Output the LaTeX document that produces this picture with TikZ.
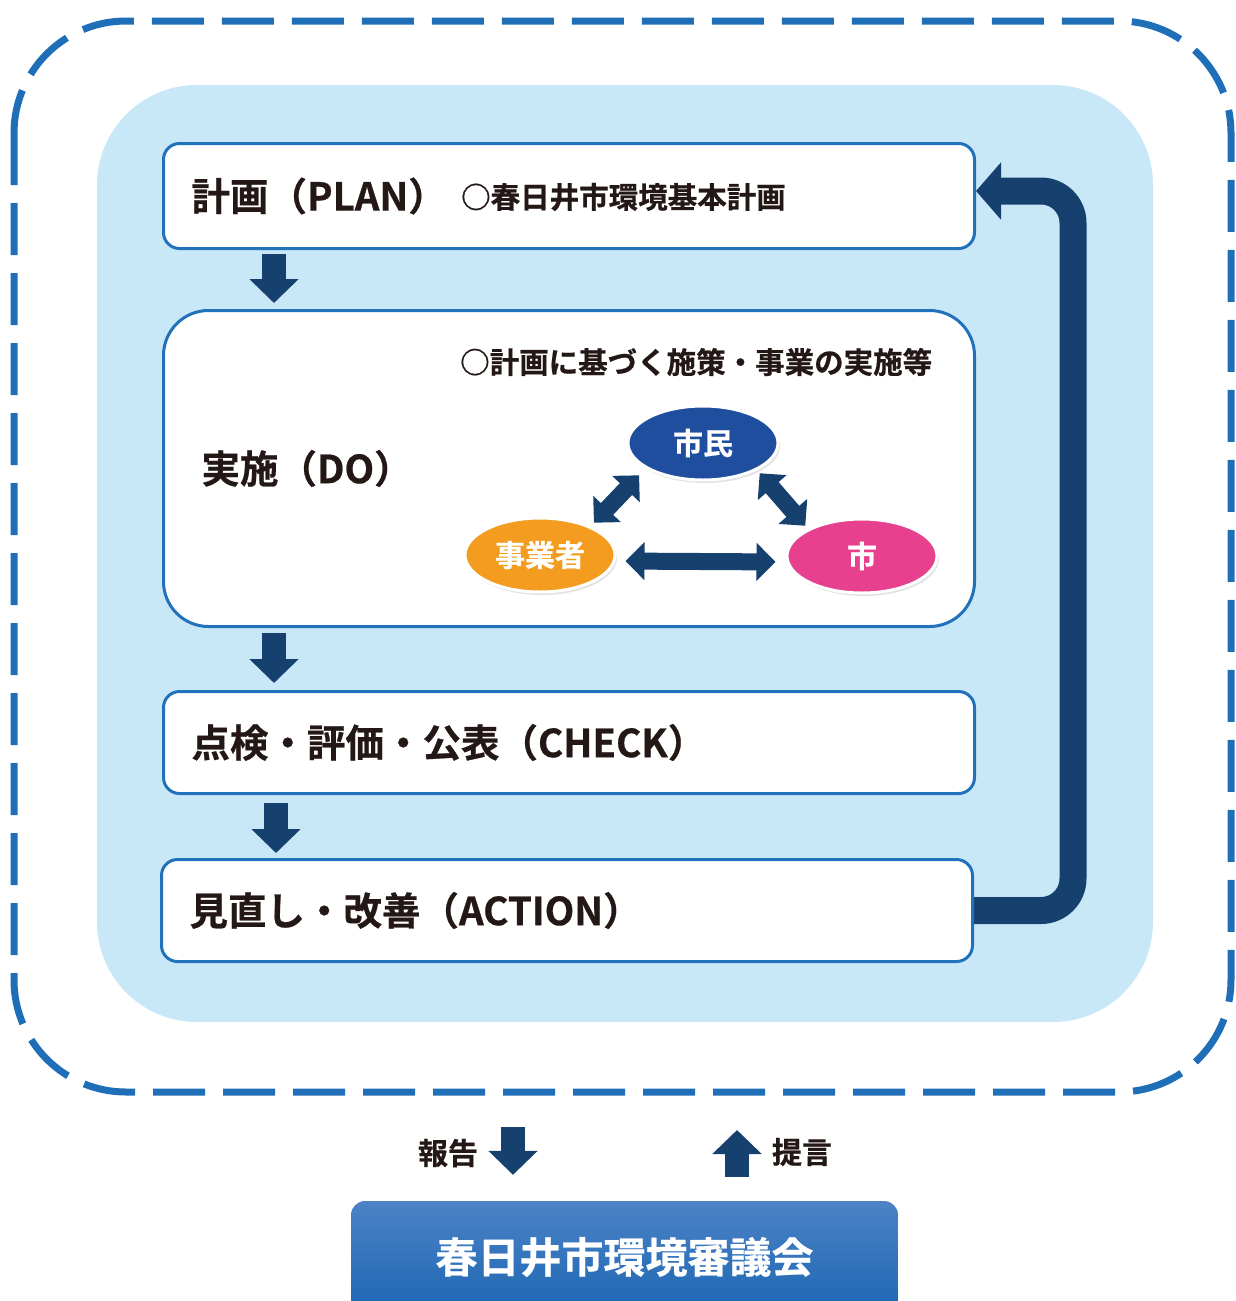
\documentclass[tikz,border=0pt]{standalone}
\usepackage{fontspec}
\setmainfont{Noto Sans CJK JP}[BoldFont=* Bold, BoldFeatures={FakeBold=0.6}]
\usetikzlibrary{arrows.meta,shapes.geometric,shadows,backgrounds,calc}
\definecolor{frameblue}{HTML}{1F6EB8}
\definecolor{boxblue}{HTML}{2271BB}
\definecolor{paleblue}{HTML}{C8E8F8}
\definecolor{arrblue}{HTML}{16416F}
\definecolor{inkblack}{HTML}{231815}
\definecolor{citizenblue}{HTML}{1F4E9F}
\definecolor{bizorange}{HTML}{F39C1F}
\definecolor{citypink}{HTML}{E6408E}
\definecolor{counciltop}{HTML}{4D82C6}
\definecolor{councilbottom}{HTML}{1B67B3}
\tikzset{
  stagebox/.style={draw=boxblue, line width=3pt, fill=white,
    rounded corners=16pt, text width=755pt, align=left, inner xsep=28pt,
    text=inkblack, font=\fontsize{38.5}{41}\selectfont\bfseries},
  notetext/.style={inner sep=0pt, text=inkblack,
    font=\fontsize{29.5}{32}\selectfont\bfseries},
  blockarr/.style={draw=arrblue, line width=24pt,
    -{Triangle[width=48pt,length=24pt]}},
  twoway/.style={draw=arrblue, line width=17pt,
    {Triangle[width=37pt,length=19pt]}-{Triangle[width=37pt,length=19pt]}},
  actor/.style={ellipse, draw=white, line width=3pt,
    minimum width=150pt, minimum height=74pt, text=white,
    font=\fontsize{30}{32}\selectfont\bfseries,
    drop shadow={opacity=0.22, shadow xshift=2pt, shadow yshift=-3pt}},
}
\begin{document}
\begin{tikzpicture}[x=1pt,y=-1pt]
\useasboundingbox (0,0) rectangle (1235,1301);
% PDCA stages
\node[stagebox, minimum height=105pt] (plan) at (569,196) {計画（PLAN）};
\node[stagebox, minimum height=316pt, rounded corners=45pt,
  inner xsep=38pt, text width=735pt] (do) at (569,468.5) {実施（DO）};
\node[stagebox, minimum height=102pt] (check) at (569,742.5)
  {点検・評価・公表（CHECK）};
\node[stagebox, minimum height=102pt] (action) at (567,910.5)
  {見直し・改善（ACTION）};
\node[notetext, anchor=west] (plannote) at (461,197)
  {○春日井市環境基本計画};
\node[notetext, anchor=west] (donote) at (460,362)
  {○計画に基づく施策・事業の実施等};
% actors
\node[actor, fill=citizenblue] (citizen) at (703,443) {市民};
\node[actor, fill=bizorange] (business) at (540,555) {事業者};
\node[actor, fill=citypink] (city) at (862,556) {市};
\draw[twoway, shorten <=7pt, shorten >=7pt]
  ([xshift=-5pt]business.north east) --
  ([xshift=-5pt]citizen.south west);
\draw[twoway, shorten <=4pt, shorten >=4pt]
  (citizen.south east) --
  (city.north west);
\draw[twoway, shorten <=9pt, shorten >=10pt]
  ([yshift=-6pt]business.east) --
  ([yshift=-6pt]city.west);
% flow between stages
\draw[blockarr, shorten <=4pt, shorten >=6pt]
  ([xshift=-295pt]plan.south) --
  ([xshift=-295pt]do.north);
\draw[blockarr, shorten <=5pt, shorten >=7pt]
  ([xshift=-295pt]do.south) --
  ([xshift=-295pt]check.north);
\draw[blockarr, shorten <=8pt, shorten >=5pt]
  ([xshift=-293pt]check.south) --
  ([xshift=-291pt]action.north);
% council
\node[rounded corners=14pt, top color=counciltop, bottom color=councilbottom,
  minimum width=547pt, minimum height=112pt, text=white,
  font=\fontsize{42}{44}\selectfont\bfseries] (council) at (624.5,1257)
  {春日井市環境審議会};
\node[notetext, font=\fontsize{30}{32}\selectfont\bfseries]
  (report) at (448,1153) {報告};
\node[notetext, font=\fontsize{30}{32}\selectfont\bfseries]
  (proposal) at (802,1152) {提言};
\coordinate (reporttop) at (513,1127);
\coordinate (proposaltop) at (737,1130);
\draw[blockarr, shorten >=26pt]
  (reporttop) --
  (reporttop |- council.north);
\draw[blockarr, shorten <=24pt]
  (council.north -| proposaltop) --
  (proposaltop);
%\node [fill=red,inner sep=1pt] at (proposaltop) {};
\begin{scope}[on background layer]
\fill[paleblue, rounded corners=100pt] (97,85) rectangle (1153,1022);
\draw[frameblue, line width=7pt, dash pattern=on 52pt off 18pt,
  rounded corners=112pt] (14,21) rectangle (1231,1092);
\coordinate (bend) at (1073,191);
\draw[arrblue, line width=27pt, rounded corners=32pt,
  -{Triangle[width=56pt,length=25pt]}]
  (action.east) -| (bend) --
  (plan.east |- bend);
\end{scope}
\end{tikzpicture}
\end{document}
